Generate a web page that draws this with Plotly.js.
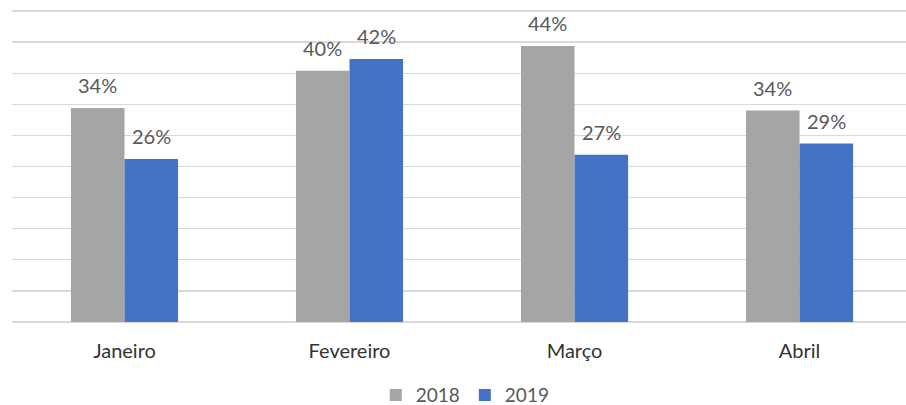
<!DOCTYPE html>
<html>
<head>
<meta charset="utf-8">
<script src="https://cdn.plot.ly/plotly-3.0.1.min.js"></script>
<style>html,body{margin:0;padding:0;background:#fff;}#chart{width:906px;height:405px;}</style>
</head>
<body>
<div id="chart"></div>
<script>
const categories = ["Janeiro", "Fevereiro", "Março", "Abril"];
const values2018 = [34.4, 40.4, 44.4, 34.0];
const values2019 = [26.2, 42.3, 26.9, 28.7];
const seriesNames = ["2018", "2019"];
const colors = ["#a5a5a5", "#4472c4"];

const xIdx = categories.map((c, i) => i);
const FONT = "Lato, 'Open Sans', sans-serif";
const TXT = "#595959";

const traces = [values2018, values2019].map((vals, s) => ({
  type: "bar",
  name: seriesNames[s],
  x: xIdx,
  y: vals,
  marker: { color: colors[s] },
  hoverinfo: "skip"
}));

const bargap = 0.524;
const half = (1 - bargap) / 2;
const annotations = [];
[values2018, values2019].forEach((vals, s) => {
  vals.forEach((v, i) => {
    annotations.push({
      x: i + (s === 0 ? -half / 2 : half / 2),
      y: v,
      xref: "x", yref: "y",
      text: Math.round(v) + "%",
      showarrow: false,
      yanchor: "bottom",
      yshift: 9,
      font: { family: FONT, size: 20, color: TXT }
    });
  });
});

const layout = {
  width: 906, height: 405,
  margin: { l: 12, r: 0, t: 8, b: 80, autoexpand: false },
  paper_bgcolor: "#fff",
  plot_bgcolor: "#fff",
  barmode: "group",
  bargap: bargap,
  bargroupgap: 0,
  showlegend: true,
  legend: {
    orientation: "h",
    x: 0.507, xanchor: "center",
    y: -0.221, yanchor: "middle",
    font: { family: FONT, size: 19, color: TXT },
    itemwidth: 30,
    traceorder: "normal"
  },
  xaxis: {
    range: [-0.5, 3.473],
    tickvals: xIdx,
    ticktext: categories,
    showgrid: false,
    zeroline: false,
    showline: false,
    ticks: "",
    ticklabelstandoff: 12,
    tickfont: { family: FONT, size: 20, color: "#333333" },
    fixedrange: true,
    automargin: false
  },
  yaxis: {
    range: [-0.5, 50.5],
    tickvals: [0, 5, 10, 15, 20, 25, 30, 35, 40, 45, 50],
    showticklabels: false,
    showgrid: true,
    gridcolor: "#d9d9d9",
    gridwidth: 1.5,
    zeroline: false,
    showline: false,
    ticks: "",
    fixedrange: true,
    automargin: false
  },
  annotations: annotations
};

Plotly.newPlot("chart", traces, layout, { displayModeBar: false, staticPlot: true });
</script>
</body>
</html>
